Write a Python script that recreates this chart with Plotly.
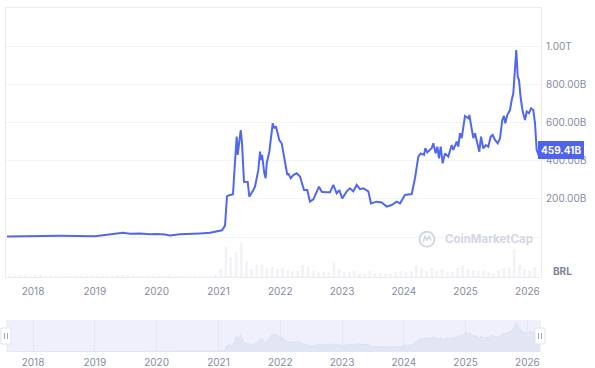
import pandas as pd
import plotly.graph_objects as go

# ---- data (market cap in BRL, dates as decimal years) ----
years = [2017.579, 2018.0, 2018.437, 2019.003, 2019.165, 2019.327, 2019.456, 2019.570, 2019.731, 2019.893,
         2020.006, 2020.136, 2020.217, 2020.379, 2020.621, 2020.702, 2020.864, 2020.977, 2021.058, 2021.107,
         2021.139, 2021.188, 2021.236, 2021.269, 2021.296, 2021.312, 2021.361, 2021.382, 2021.414, 2021.474,
         2021.500, 2021.565, 2021.592, 2021.646, 2021.673, 2021.689, 2021.706, 2021.743, 2021.765, 2021.782,
         2021.824, 2021.879, 2021.905, 2021.932, 2021.985, 2022.024, 2022.050, 2022.094, 2022.115, 2022.131,
         2022.170, 2022.212, 2022.267, 2022.320, 2022.385, 2022.438, 2022.482, 2022.536, 2022.579, 2022.628,
         2022.672, 2022.725, 2022.806, 2022.859, 2022.914, 2022.956, 2023.005, 2023.076, 2023.129, 2023.183,
         2023.238, 2023.291, 2023.345, 2023.426, 2023.469, 2023.561, 2023.642, 2023.723, 2023.804, 2023.885,
         2023.939, 2024.019, 2024.128, 2024.181, 2024.235, 2024.273, 2024.327, 2024.348, 2024.380, 2024.451,
         2024.477, 2024.516, 2024.542, 2024.570, 2024.597, 2024.629, 2024.667, 2024.720, 2024.775, 2024.801,
         2024.856, 2024.882, 2024.909, 2024.937, 2024.990, 2025.044, 2025.060, 2025.099, 2025.125, 2025.152,
         2025.189, 2025.222, 2025.249, 2025.286, 2025.330, 2025.367, 2025.406, 2025.438, 2025.476, 2025.519,
         2025.557, 2025.594, 2025.621, 2025.642, 2025.675, 2025.718, 2025.746, 2025.772, 2025.794, 2025.820,
         2025.843, 2025.864, 2025.892, 2025.924, 2025.961, 2025.989, 2026.026, 2026.058, 2026.096, 2026.123,
         2026.150, 2026.192, 2026.204]

market_cap_b = [3, 5, 6, 4, 10, 18, 22, 17, 19, 15,
                16, 13, 8, 14, 16, 19, 22, 28, 35, 60,
                215, 221, 225, 400, 528, 432, 563, 494, 291, 290,
                212, 247, 265, 353, 449, 405, 432, 335, 309, 388,
                449, 598, 572, 582, 510, 493, 440, 370, 326, 335,
                309, 326, 335, 318, 247, 247, 186, 198, 230, 265,
                238, 235, 235, 274, 230, 247, 203, 240, 256, 240,
                274, 252, 256, 240, 177, 186, 182, 160, 168, 186,
                177, 221, 226, 309, 423, 440, 432, 467, 445, 467,
                493, 440, 475, 414, 475, 388, 440, 423, 484, 458,
                502, 475, 546, 520, 637, 625, 642, 572, 520, 546,
                502, 449, 528, 467, 484, 475, 528, 537, 511, 493,
                520, 616, 637, 598, 642, 668, 721, 756, 861, 984,
                844, 826, 730, 660, 616, 660, 651, 677, 668, 598,
                458, 423, 459.41]

# monthly trading volume (relative units), starting Aug 2017
volume_start = "2017-08-01"
volume = [1, 1, 2, 2, 1,
          2, 2, 1, 1, 1, 1, 1, 1, 1, 1, 1, 1,
          1, 1, 1, 1, 2, 2, 2, 1, 1, 1, 1, 1,
          1, 1, 2, 1, 1, 1, 1, 1, 1, 1, 1, 2,
          8, 30, 20, 25, 34, 15, 8, 12, 12, 9, 10, 8,
          9, 7, 6, 6, 12, 10, 6, 5, 5, 5, 15, 8,
          5, 5, 6, 4, 3, 6, 4, 4, 3, 3, 5, 6,
          5, 6, 12, 9, 6, 9, 6, 8, 5, 5, 9, 12,
          8, 7, 6, 6, 5, 4, 7, 9, 10, 28, 12, 8,
          6, 10]

year_ticks = list(range(2018, 2027))
price_ticks_b = [200, 400, 600, 800, 1000]
price_tick_labels = ["200.00B", "400.00B", "600.00B", "800.00B", "1.00T"]
last_label = "459.41B"
currency = "BRL"

# ---- helpers ----
base = pd.Timestamp("2018-01-01")
def to_date(y):
    return base + pd.Timedelta(days=(y - 2018) * 365.25)

dates = [to_date(y) for y in years]
caps = [v * 1e9 for v in market_cap_b]
vol_dates = pd.date_range(volume_start, periods=len(volume), freq="MS") + pd.Timedelta(days=14)
x_range = [to_date(2017.563), to_date(2026.220)]

LINE = "#5168ee"
GRID = "#f2f3f6"
BORDER = "#eaecf0"
TXT = "#858ca2"
FONT = "Inter"
WM = "#d3d7e4"

fig = go.Figure()

# volume bars (main panel)
fig.add_trace(go.Bar(x=vol_dates, y=volume, yaxis="y2", xaxis="x",
                     marker=dict(color="#f2f3f6", line=dict(width=0)),
                     hoverinfo="skip", showlegend=False))

# main price line
fig.add_trace(go.Scatter(x=dates, y=caps, mode="lines", xaxis="x", yaxis="y",
                         line=dict(color=LINE, width=2), showlegend=False))

# navigator area
fig.add_trace(go.Scatter(x=dates, y=caps, mode="lines", xaxis="x2", yaxis="y3",
                         line=dict(color="#dde1f1", width=1), fill="tozeroy",
                         fillcolor="#e2e5f4", showlegend=False, hoverinfo="skip"))

H = 344.0
main_bottom = (352 - 277) / H

fig.update_layout(
    width=595, height=368,
    margin=dict(l=6, r=54, t=8, b=16, autoexpand=False),
    paper_bgcolor="white", plot_bgcolor="white",
    font=dict(family=FONT, size=10, color=TXT),
    bargap=0.4,
    xaxis=dict(domain=[0, 1], anchor="y", type="date", range=x_range, automargin=False,
               tickvals=[to_date(y) for y in year_ticks], ticktext=[str(y) for y in year_ticks],
               showgrid=False, zeroline=False,
               showline=True, linecolor=BORDER, linewidth=1, mirror=True,
               ticks="outside", ticklen=5, tickcolor="rgba(0,0,0,0)",
               tickfont=dict(size=10, color=TXT)),
    yaxis=dict(domain=[main_bottom, 1], anchor="x", side="right", automargin=False,
               range=[-210.5e9, 1205e9],
               tickvals=[0] + [v * 1e9 for v in price_ticks_b] + [1200e9],
               ticktext=[""] + price_tick_labels + [""],
               showgrid=True, gridcolor=GRID, gridwidth=1, zeroline=False,
               showline=True, linecolor=BORDER, mirror=True,
               ticks="outside", ticklen=2, tickcolor="rgba(0,0,0,0)",
               tickfont=dict(size=10, color=TXT)),
    yaxis2=dict(domain=[main_bottom, 1], anchor="x", overlaying="y", range=[0, 270], automargin=False,
                showgrid=False, showticklabels=False, zeroline=False),
    xaxis2=dict(domain=[0, 1], anchor="y3", type="date", range=x_range, automargin=False,
                tickvals=[to_date(y) for y in year_ticks], ticktext=[str(y) for y in year_ticks],
                showgrid=True, gridcolor="#e4e7f4", zeroline=False, showline=False,
                ticks="outside", ticklen=1, tickcolor="rgba(0,0,0,0)",
                tickfont=dict(size=10, color=TXT)),
    yaxis3=dict(domain=[0, 32 / H], anchor="x2", range=[0, 1.06e12], automargin=False,
                showgrid=False, showticklabels=False, zeroline=False),
    hovermode=False,
)

# navigator background
fig.add_shape(type="rect", xref="x2 domain", yref="y3 domain", x0=0, x1=1, y0=0, y1=1,
              fillcolor="#eff0fb", line=dict(width=0), layer="below")

# navigator handles
for xd in [0, 1]:
    fig.add_shape(type="rect", xref="x2 domain", yref="y3 domain", xsizemode="pixel", ysizemode="pixel",
                  xanchor=xd, yanchor=0.5, x0=-5 if xd == 0 else -6, x1=5 if xd == 0 else 4, y0=-8, y1=8,
                  line=dict(color="#e3e5ec", width=1), fillcolor="white")
    for dx in ([-1.5, 1.5] if xd == 0 else [-2.5, 0.5]):
        fig.add_shape(type="line", xref="x2 domain", yref="y3 domain", xsizemode="pixel", ysizemode="pixel",
                      xanchor=xd, yanchor=0.5, x0=dx, x1=dx, y0=-3, y1=3,
                      line=dict(color="#a0a6b8", width=1))

# last value label
fig.add_annotation(x=1, xref="paper", y=459.41e9, yref="y", xanchor="left", yanchor="middle",
                   xshift=-3, text="<b>" + last_label + "</b>", showarrow=False,
                   font=dict(color="white", size=10, family=FONT),
                   bgcolor="#4e63e8", bordercolor="#4e63e8", borderpad=2)

# currency label
fig.add_annotation(x=1, xref="paper", y=main_bottom, yref="paper", xanchor="left", yanchor="bottom",
                   xshift=10, yshift=-2, text="<b>" + currency + "</b>", showarrow=False,
                   font=dict(color="#7d8496", size=10, family=FONT))

# watermark
fig.add_annotation(x=to_date(2024.63), xref="x", y=-12e9, yref="y", xanchor="left", yanchor="middle",
                   text="<b>CoinMarketCap</b>", showarrow=False,
                   font=dict(color=WM, size=11.5, family=FONT))
fig.add_shape(type="circle", xref="x", yref="y", xsizemode="pixel", ysizemode="pixel",
              xanchor=to_date(2024.375), yanchor=-12e9, x0=-7.5, x1=7.5, y0=-7.5, y1=7.5,
              line=dict(color=WM, width=2))
fig.add_shape(type="path", xref="x", yref="y", xsizemode="pixel", ysizemode="pixel",
              xanchor=to_date(2024.375), yanchor=-12e9,
              path="M -4,-3 L -2,3 L 0,-1 L 2,3 L 4,-1", line=dict(color=WM, width=1.6))

fig.write_html("out.html", config={"displayModeBar": False},
               post_script="document.documentElement.style.margin='0';document.body.style.margin='0';"
                           "document.body.style.overflow='hidden';document.documentElement.style.overflow='hidden';")
